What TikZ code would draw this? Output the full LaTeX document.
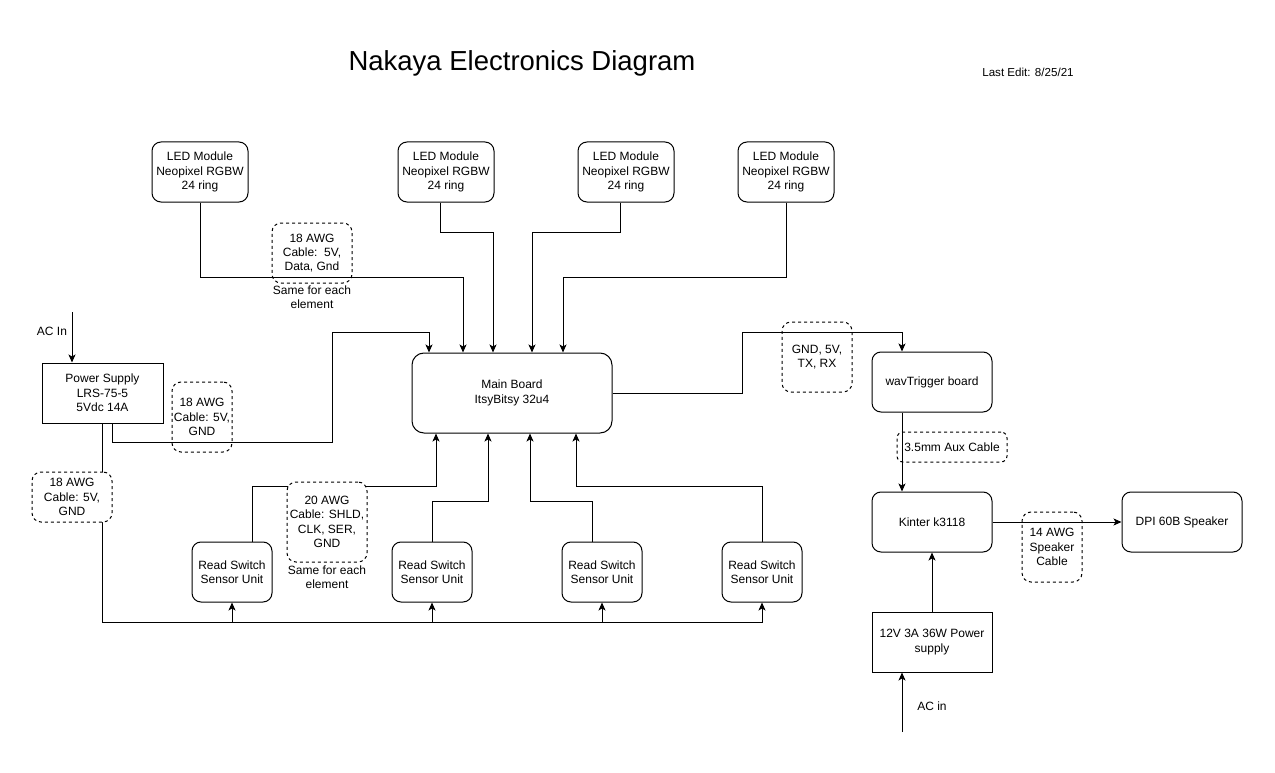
\documentclass[tikz,border=0pt]{standalone}
\usepackage{fontspec}
\setmainfont{Liberation Sans}
\usetikzlibrary{arrows.meta}

\begin{document}
\begin{tikzpicture}[x=1pt, y=-1pt,
  every node/.style = {align=center, font=\fontsize{12}{14.4}\selectfont},
  box/.style = {draw, line width=1pt, minimum height=60pt, inner sep=0pt},
  rbox/.style = {box, rounded corners=9pt},
  cable/.style = {draw, line width=1pt, dash pattern=on 3pt off 3pt,
    rounded corners=9pt, inner sep=0pt},
  wire/.style = {line width=1pt},
  arr/.style = {wire, -{Stealth[length=8pt,width=7pt,inset=2pt]}}]
  \useasboundingbox (0,0) rectangle (1275,773);

  \node[font=\fontsize{27.5}{32}\selectfont] (title) at (522,63) {Nakaya Electronics Diagram};
  \node[font=\fontsize{11.6}{14}\selectfont] (edit) at (1028,72) {Last Edit: 8/25/21};

  % LED rings
  \node[rbox, minimum width=96pt] (led1) at (200,172) {LED Module\\Neopixel RGBW\\24 ring};
  \node[rbox, minimum width=96pt] (led2) at (446,172) {LED Module\\Neopixel RGBW\\24 ring};
  \node[rbox, minimum width=96pt] (led3) at (626,172) {LED Module\\Neopixel RGBW\\24 ring};
  \node[rbox, minimum width=96pt] (led4) at (786,172) {LED Module\\Neopixel RGBW\\24 ring};

  \node[rbox, minimum width=200pt, minimum height=80pt, rounded corners=12pt] (main) at (512,393) {Main Board\\ItsyBitsy 32u4};
  \node[box, minimum width=121pt] (ps) at (102.5,393) {Power Supply\\LRS-75-5\\5Vdc 14A};

  % sensors
  \node[rbox, minimum width=80pt] (rs1) at (232,572) {Read Switch\\Sensor Unit};
  \node[rbox, minimum width=80pt] (rs2) at (432,572) {Read Switch\\Sensor Unit};
  \node[rbox, minimum width=80pt] (rs3) at (602,572) {Read Switch\\Sensor Unit};
  \node[rbox, minimum width=80pt] (rs4) at (762,572) {Read Switch\\Sensor Unit};

  % audio
  \node[rbox, minimum width=120pt] (wav) at (932,382) {wavTrigger board};
  \node[rbox, minimum width=120pt] (kin) at (932,522) {Kinter k3118};
  \node[rbox, minimum width=120pt] (spk) at (1182,522) {DPI 60B Speaker};
  \node[box, minimum width=120pt] (psb) at (932,642) {12V 3A 36W Power\\supply};

  \node (acin) at (52,331) {AC In};
  \node (acin2) at (932,706) {AC in};
  \coordinate (acps) at (72,312);
  \coordinate (acpsb) at (902,732);

  % wires
  \draw[arr] (led1.south) -- ++(0,75) -| ([xshift=-49pt]main.north);
  \draw[arr] ([xshift=-6pt]led2.south) -- ++(0,30) -| ([xshift=-19pt]main.north);
  \draw[arr] ([xshift=-6pt]led3.south) -- ++(0,30) -| ([xshift=20pt]main.north);
  \draw[arr] (led4.south) -- ++(0,75) -| ([xshift=51pt]main.north);
  \draw[arr] ([xshift=10pt]ps.south) -- ++(0,19) -| (332,332) -| ([xshift=-83pt]main.north);
  \foreach \r in {rs1,rs2,rs3,rs4}
    \draw[arr] (ps.south) -- ++(0,199) -| (\r.south);
  \draw[arr] ([xshift=20pt]rs1.north) -- ++(0,-55) -| ([xshift=-76pt]main.south);
  \draw[arr] (rs2.north) -- ++(0,-40) -| ([xshift=-24pt]main.south);
  \draw[arr] ([xshift=-10pt]rs3.north) -- ++(0,-40) -| ([xshift=18pt]main.south);
  \draw[arr] (rs4.north) -- ++(0,-55) -| ([xshift=64pt]main.south);
  \draw[arr] (main.east) -- ++(130,0) -- ++(0,-61) -| ([xshift=-30pt]wav.north);
  \draw[arr] ([xshift=-30pt]wav.south) -- ([xshift=-30pt]kin.north);
  \draw[arr] (psb.north) -- (kin.south);
  \draw[arr] (kin.east) -- (spk.west);
  \draw[arr] (acps) -- ([xshift=-30.5pt]ps.north);
  \draw[arr] (acpsb) -- ([xshift=-30pt]psb.south);

  % cable notes
  \node[cable, minimum width=80pt, minimum height=60pt] (c1) at (312,253) {18 AWG\\Cable:~~5V,\\Data, Gnd};
  \node (c1n) at (312,297) {Same for each\\element};
  \node[cable, minimum width=60pt, minimum height=70pt] (c2) at (202,417) {18 AWG\\Cable: 5V,\\GND};
  \node[cable, fill=white, minimum width=80pt, minimum height=50pt] (c3) at (72,497) {18 AWG\\Cable: 5V,\\GND};
  \node[cable, fill=white, minimum width=80pt, minimum height=80pt] (c4) at (327,522) {20 AWG\\Cable: SHLD,\\CLK, SER,\\GND};
  \node (c4n) at (327,577) {Same for each\\element};
  \node[cable, minimum width=70pt, minimum height=70pt] (c5) at (817,357) {GND, 5V,\\TX, RX};
  \node[cable, minimum width=110pt, minimum height=30pt, rounded corners=6pt] (c6) at (952,447) {3.5mm Aux Cable};
  \node[cable, minimum width=60pt, minimum height=70pt] (c7) at (1052,547) {14 AWG\\Speaker\\Cable};
\end{tikzpicture}
\end{document}
